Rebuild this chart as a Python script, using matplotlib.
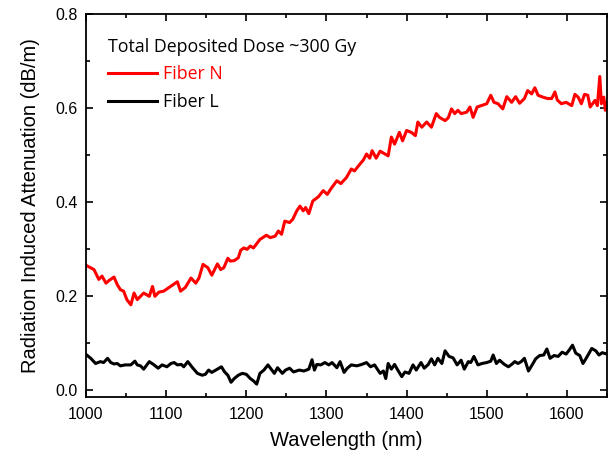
import matplotlib
matplotlib.use('Agg')
import matplotlib.pyplot as plt
from matplotlib.ticker import MultipleLocator

# Fiber N (red)
wl_n = [1000, 1010, 1016, 1020, 1025, 1029, 1035, 1039, 1043, 1047, 1051, 1056, 1060, 1064,
        1068, 1072, 1079, 1083, 1086, 1091, 1097, 1103, 1109, 1114, 1118, 1124, 1131, 1137,
        1141, 1146, 1152, 1157, 1164, 1168, 1172, 1177, 1180, 1185, 1190, 1193, 1197, 1201,
        1205, 1209, 1217, 1225, 1230, 1236, 1240, 1244, 1248, 1254, 1258, 1263, 1267, 1271,
        1274, 1278, 1283, 1290, 1296, 1301, 1306, 1313, 1318, 1325, 1331, 1335, 1342, 1346,
        1350, 1354, 1357, 1362, 1367, 1373, 1377, 1381, 1385, 1391, 1395, 1400, 1406, 1411,
        1414, 1419, 1425, 1431, 1437, 1441, 1448, 1452, 1456, 1460, 1464, 1468, 1475, 1479,
        1483, 1488, 1493, 1500, 1505, 1509, 1514, 1520, 1525, 1531, 1536, 1541, 1547, 1551,
        1556, 1560, 1564, 1570, 1576, 1581, 1585, 1588, 1593, 1599, 1606, 1610, 1614, 1618,
        1622, 1626, 1629, 1635, 1638, 1641, 1643, 1646, 1648, 1650]
att_n = [0.265, 0.256, 0.235, 0.242, 0.227, 0.233, 0.240, 0.224, 0.213, 0.210, 0.192, 0.181,
         0.206, 0.192, 0.199, 0.206, 0.199, 0.220, 0.199, 0.208, 0.210, 0.217, 0.224, 0.230,
         0.210, 0.218, 0.238, 0.227, 0.238, 0.267, 0.260, 0.244, 0.268, 0.256, 0.260, 0.280,
         0.274, 0.275, 0.281, 0.297, 0.302, 0.299, 0.306, 0.302, 0.320, 0.329, 0.324, 0.327,
         0.338, 0.331, 0.359, 0.356, 0.363, 0.381, 0.391, 0.381, 0.388, 0.375, 0.402, 0.411,
         0.424, 0.416, 0.429, 0.445, 0.439, 0.452, 0.470, 0.466, 0.481, 0.489, 0.502, 0.493,
         0.509, 0.493, 0.508, 0.502, 0.498, 0.538, 0.523, 0.548, 0.530, 0.552, 0.548, 0.541,
         0.570, 0.559, 0.570, 0.559, 0.588, 0.580, 0.573, 0.579, 0.598, 0.588, 0.595, 0.588,
         0.591, 0.602, 0.580, 0.602, 0.605, 0.609, 0.627, 0.612, 0.609, 0.598, 0.624, 0.612,
         0.624, 0.610, 0.620, 0.637, 0.630, 0.643, 0.627, 0.623, 0.620, 0.620, 0.634, 0.617,
         0.609, 0.612, 0.605, 0.629, 0.623, 0.609, 0.629, 0.627, 0.602, 0.616, 0.605, 0.667,
         0.609, 0.623, 0.595, 0.610]

# Fiber L (black)
wl_l = [1001, 1006, 1012, 1018, 1022, 1027, 1031, 1035, 1039, 1043, 1049, 1056, 1061, 1064,
        1068, 1072, 1079, 1085, 1090, 1095, 1101, 1106, 1110, 1114, 1119, 1122, 1127, 1133,
        1139, 1145, 1149, 1153, 1157, 1164, 1169, 1173, 1177, 1181, 1185, 1190, 1195, 1200,
        1205, 1209, 1213, 1217, 1222, 1227, 1231, 1235, 1239, 1245, 1249, 1254, 1259, 1266,
        1272, 1278, 1282, 1285, 1288, 1293, 1298, 1303, 1307, 1313, 1317, 1322, 1326, 1331,
        1338, 1344, 1350, 1355, 1360, 1367, 1371, 1374, 1377, 1381, 1385, 1389, 1394, 1398,
        1403, 1408, 1412, 1418, 1422, 1427, 1431, 1435, 1439, 1444, 1448, 1453, 1458, 1463,
        1468, 1472, 1477, 1480, 1484, 1489, 1494, 1500, 1505, 1508, 1512, 1516, 1522, 1527,
        1531, 1535, 1539, 1543, 1547, 1552, 1557, 1561, 1566, 1571, 1575, 1579, 1584, 1589,
        1594, 1599, 1603, 1607, 1611, 1616, 1620, 1624, 1631, 1636, 1640, 1644, 1650]
att_l = [0.074, 0.067, 0.056, 0.060, 0.058, 0.067, 0.058, 0.055, 0.056, 0.051, 0.053, 0.053,
         0.061, 0.053, 0.051, 0.044, 0.060, 0.053, 0.046, 0.053, 0.049, 0.056, 0.058, 0.053,
         0.054, 0.049, 0.060, 0.047, 0.035, 0.031, 0.033, 0.042, 0.037, 0.044, 0.049, 0.038,
         0.031, 0.016, 0.024, 0.031, 0.035, 0.033, 0.024, 0.019, 0.012, 0.035, 0.042, 0.053,
         0.044, 0.035, 0.047, 0.035, 0.042, 0.046, 0.038, 0.042, 0.040, 0.044, 0.064, 0.042,
         0.054, 0.053, 0.058, 0.053, 0.058, 0.047, 0.060, 0.037, 0.046, 0.053, 0.051, 0.054,
         0.058, 0.049, 0.053, 0.035, 0.040, 0.024, 0.056, 0.044, 0.054, 0.042, 0.028, 0.038,
         0.035, 0.053, 0.042, 0.058, 0.046, 0.054, 0.066, 0.053, 0.067, 0.056, 0.083, 0.071,
         0.068, 0.053, 0.063, 0.044, 0.060, 0.058, 0.071, 0.053, 0.056, 0.058, 0.061, 0.074,
         0.056, 0.063, 0.054, 0.049, 0.054, 0.060, 0.056, 0.060, 0.067, 0.040, 0.054, 0.066,
         0.073, 0.074, 0.087, 0.067, 0.073, 0.071, 0.080, 0.076, 0.085, 0.095, 0.078, 0.073,
         0.056, 0.067, 0.088, 0.083, 0.074, 0.079, 0.076]

x_ticks = [1000, 1100, 1200, 1300, 1400, 1500, 1600]
y_ticks = [0.0, 0.2, 0.4, 0.6, 0.8]

plt.rcParams['font.family'] = ['Liberation Sans', 'DejaVu Sans']

fig = plt.figure(figsize=(6.14, 4.59), dpi=100)
ax = fig.add_axes([0.140, 0.135, 0.8486, 0.8345])

ax.plot(wl_n, att_n, color='red', linewidth=2.2, label='Fiber N')
ax.plot(wl_l, att_l, color='black', linewidth=2.2, label='Fiber L')

ax.set_xlim(1000, 1650)
ax.set_ylim(-0.0154, 0.8)
ax.set_xticks(x_ticks)
ax.set_xticklabels([str(t) for t in x_ticks])
ax.set_yticks(y_ticks)
ax.set_yticklabels([f'{t:.1f}' for t in y_ticks])
ax.xaxis.set_minor_locator(MultipleLocator(50))
ax.yaxis.set_minor_locator(MultipleLocator(0.1))
ax.tick_params(which='both', direction='in', top=True, right=True, width=1.2)
ax.tick_params(which='major', length=5, labelsize=11.5)
ax.tick_params(which='minor', length=3)
ax.tick_params(axis='x', which='major', pad=7)
ax.tick_params(axis='y', which='major', pad=6)
for s in ax.spines.values():
    s.set_linewidth(1.3)

ax.set_xlabel('Wavelength (nm)', fontsize=14.5, labelpad=7)
ax.set_ylabel('Radiation Induced Attenuation (dB/m)', fontsize=14.5, labelpad=11)

leg = ax.legend(loc='upper left', frameon=False, title='Total Deposited Dose ~300 Gy',
                labelcolor='linecolor', handlelength=2.75, handletextpad=0.35,
                prop={'family': 'Open Sans', 'size': 12.8},
                title_fontproperties={'family': 'Open Sans', 'size': 12.8},
                bbox_to_anchor=(0.012, 0.98), labelspacing=0.55)
leg._legend_box.align = 'left'

plt.savefig('out.png', dpi=100, facecolor='white')
plt.close()
